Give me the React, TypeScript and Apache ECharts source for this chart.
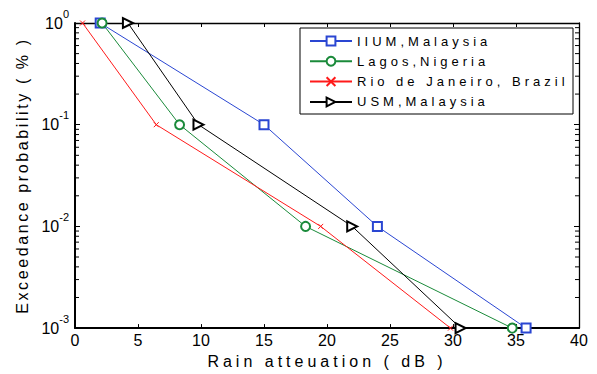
import React, { useEffect, useRef } from "react";
import * as echarts from "echarts";

// Exceedance probability (%) shared by every site
const probabilities = [1, 0.1, 0.01, 0.001];
// Rain attenuation (dB) at each probability
const iiumAtten = [2.0, 15.0, 24.0, 35.8];
const lagosAtten = [2.15, 8.3, 18.3, 34.7];
const rioAtten = [0.6, 6.45, 19.5, 29.8];
const usmAtten = [4.2, 9.8, 22.0, 30.6];

const seriesNames = [
  "IIUM,Malaysia",
  "Lagos,Nigeria",
  "Rio de Janeiro, Brazil",
  "USM,Malaysia",
];

const xMin = 0;
const xMax = 40;
const xInterval = 5;
const yMin = 0.001;
const yMax = 1;
const minorTickValues = [
  0.002, 0.003, 0.004, 0.005, 0.006, 0.007, 0.008, 0.009,
  0.02, 0.03, 0.04, 0.05, 0.06, 0.07, 0.08, 0.09,
  0.2, 0.3, 0.4, 0.5, 0.6, 0.7, 0.8, 0.9,
];

const colors = ["#2a46d2", "#1a8a3a", "#ff1a1a", "#000000"];

const pairs = (xs: number[]) => xs.map((x, i) => [x, probabilities[i]]);

export default function App() {
  const ref = useRef<HTMLDivElement>(null);

  useEffect(() => {
    if (!ref.current) return;
    const chart = echarts.init(ref.current, null, { renderer: "svg" });

    const tickFont = "Liberation Sans";
    const spacedFont = "Liberation Sans, sp4";
    const yTitleFont = "Liberation Sans, ytl";

    const lineSeries = (
      name: string,
      xs: number[],
      color: string,
      symbol: string,
      size: number,
      rotate = 0
    ) => ({
      type: "line",
      name,
      data: pairs(xs),
      xAxisIndex: 0,
      yAxisIndex: 0,
      symbol,
      symbolSize: size,
      symbolRotate: rotate,
      showSymbol: true,
      lineStyle: { color, width: 1 },
      itemStyle: { color, borderColor: color, borderWidth: 1 },
      emphasis: { disabled: true },
      silent: true,
      z: 2,
    });

    const option: any = {
      animation: false,
      backgroundColor: "#fff",
      grid: { left: 75, top: 23, width: 504, height: 308, containLabel: false },
      legend: {
        orient: "vertical",
        left: 309,
        top: 34,
        padding: 0,
        itemWidth: 42,
        itemHeight: 11,
        itemGap: 6.3,
        selectedMode: false,
        data: seriesNames,
        textStyle: {
          fontSize: 13,
          fontFamily: spacedFont,
          color: "#000",
          lineHeight: 14,
        },
        z: 5,
      },
      graphic: [
        {
          type: "rect",
          shape: { x: 300, y: 28, width: 273, height: 86 },
          style: { fill: "#fff", stroke: "#000", lineWidth: 1 },
          z: 3,
          silent: true,
        },
      ],
      xAxis: [
        {
          type: "value",
          position: "bottom",
          min: xMin,
          max: xMax,
          interval: xInterval,
          axisLine: { show: true, onZero: false, lineStyle: { color: "#000", width: 2 } },
          axisTick: { show: true, inside: true, length: 4, lineStyle: { color: "#000", width: 1 } },
          axisLabel: { color: "#000", fontSize: 16, fontFamily: tickFont, margin: 4 },
          splitLine: { show: false },
          name: "Rain atteuation ( dB )",
          nameLocation: "middle",
          nameGap: 24,
          nameTextStyle: { color: "#000", fontSize: 16, fontFamily: spacedFont },
        },
        {
          type: "value",
          position: "top",
          min: xMin,
          max: xMax,
          interval: xInterval,
          axisLine: { show: true, onZero: false, lineStyle: { color: "#000", width: 1.3 } },
          axisTick: { show: true, inside: true, length: 4, lineStyle: { color: "#000", width: 1 } },
          axisLabel: { show: false },
          splitLine: { show: false },
        },
      ],
      yAxis: [
        {
          type: "log",
          logBase: 10,
          position: "left",
          min: yMin,
          max: yMax,
          axisLine: { show: true, onZero: false, lineStyle: { color: "#000", width: 2 } },
          axisTick: { show: true, inside: true, length: 5, lineStyle: { color: "#000", width: 1 } },
          axisLabel: {
            color: "#000",
            fontSize: 16,
            fontFamily: tickFont,
            margin: 6,
            formatter: (v: number) => `{b|10}{s|${Math.round(Math.log10(v))}}`,
            rich: {
              b: { fontSize: 16, fontFamily: tickFont, color: "#000", lineHeight: 30 },
              s: { fontSize: 11, fontFamily: tickFont, color: "#000", lineHeight: 12, verticalAlign: "top" },
            },
          },
          splitLine: { show: false },
          minorTick: { show: false },
          name: "Exceedance probability ( % )",
          nameLocation: "middle",
          nameGap: 44,
          nameRotate: 90,
          nameTextStyle: { color: "#000", fontSize: 16, fontFamily: yTitleFont },
        },
        {
          type: "log",
          logBase: 10,
          position: "right",
          min: yMin,
          max: yMax,
          axisLine: { show: true, onZero: false, lineStyle: { color: "#000", width: 1.3 } },
          axisTick: { show: true, inside: true, length: 5, lineStyle: { color: "#000", width: 1 } },
          axisLabel: { show: false },
          splitLine: { show: false },
        },
      ],
      series: [
        lineSeries(seriesNames[0], iiumAtten, colors[0], "emptyRect", 9),
        lineSeries(seriesNames[1], lagosAtten, colors[1], "emptyCircle", 9),
        lineSeries(seriesNames[2], rioAtten, colors[2], "path://M0,0L10,10M10,0L0,10", 5),
        lineSeries(seriesNames[3], usmAtten, colors[3], "emptyTriangle", 10, -90),
        {
          type: "custom",
          name: "minorTicks",
          xAxisIndex: 0,
          yAxisIndex: 0,
          silent: true,
          clip: false,
          z: 4,
          data: minorTickValues.map((v) => [xMin, v]),
          renderItem: (_params: any, api: any) => {
            const v = api.value(1);
            const l = api.coord([xMin, v]);
            const r = api.coord([xMax, v]);
            return {
              type: "group",
              children: [
                {
                  type: "line",
                  shape: { x1: l[0], y1: l[1], x2: l[0] + 4, y2: l[1] },
                  style: { stroke: "#000", lineWidth: 1 },
                },
                {
                  type: "line",
                  shape: { x1: r[0] - 4, y1: r[1], x2: r[0], y2: r[1] },
                  style: { stroke: "#000", lineWidth: 1 },
                },
              ],
            };
          },
        },
      ],
    };

    chart.setOption(option);
    return () => chart.dispose();
  }, []);

  return (
    <>
      <style>{`
        text[style*="sp4"] { letter-spacing: 4px; }
        text[style*="ytl"] { letter-spacing: 2.6px; }
      `}</style>
      <div
        ref={ref}
        style={{ position: "absolute", left: 0, top: 0, width: 597, height: 374, background: "#fff" }}
      />
    </>
  );
}
